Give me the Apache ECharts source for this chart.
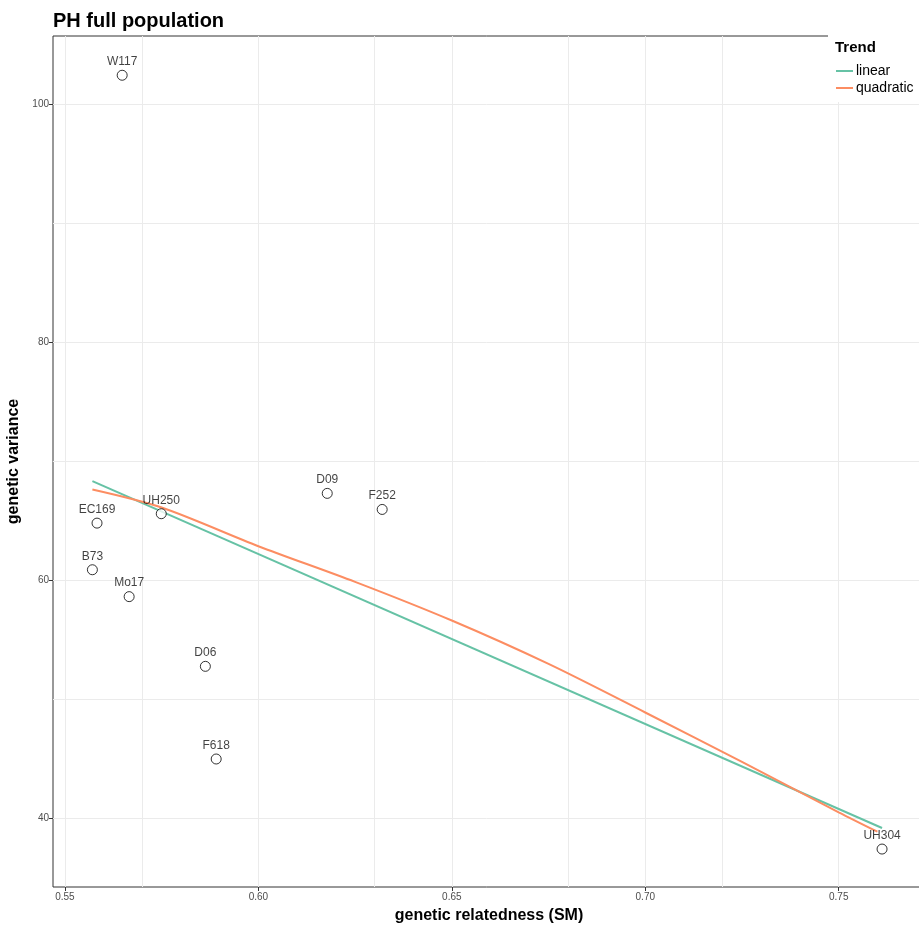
<!DOCTYPE html>
<html>
<head>
<meta charset="utf-8">
<title>PH full population</title>
<script src="https://cdn.jsdelivr.net/npm/echarts@6/dist/echarts.min.js"></script>
<style>
  html, body { margin: 0; padding: 0; background: #fff; }
  #chart { width: 919px; height: 931px; }
</style>
</head>
<body>
<div id="chart"></div>
<script>
// tick positions
const xTicks = [0.55, 0.60, 0.65, 0.70, 0.75]
const xMinor = [0.575, 0.625, 0.675, 0.725]
const yTicks = [40, 60, 80, 100]
const yMinor = [50, 70, 90]

// genotypes (points)
const genotypes = ['W117', 'EC169', 'B73', 'Mo17', 'UH250', 'D06', 'F618', 'D09', 'F252', 'UH304']
const relatedness = [0.5648, 0.5583, 0.5571, 0.5666, 0.5749, 0.5863, 0.5891, 0.6178, 0.6320, 0.7612]
const variance = [102.44, 64.79, 60.87, 58.61, 65.58, 52.75, 44.96, 67.29, 65.94, 37.39]

// trend lines
const linearX = [0.5571, 0.7612]
const linearY = [68.32, 39.16]
const quadX = [0.5571, 0.575, 0.600, 0.625, 0.650, 0.675, 0.700, 0.725, 0.750, 0.7600]
const quadY = [67.62, 66.10, 62.85, 59.85, 56.60, 52.95, 48.87, 44.72, 40.48, 38.85]

const font = 'Liberation Sans, Arial, sans-serif'
const pair = (xs, ys) => xs.map((x, i) => [x, ys[i]])

const chart = echarts.init(document.getElementById('chart'))
chart.setOption({
  animation: false,
  backgroundColor: '#fff',
  title: {
    text: 'PH full population',
    left: 48,
    top: 6,
    textStyle: { fontFamily: font, fontSize: 20, fontWeight: 'bold', color: '#000' }
  },
  graphic: [
    // legend box covers the panel border (as in the original)
    { type: 'rect', z: 100, shape: { x: 828, y: 30, width: 91, height: 72 }, style: { fill: '#fff' } },
    { type: 'text', z: 101, left: 835, top: 40,
      style: { text: 'Trend', fontFamily: font, fontSize: 15, fontWeight: 'bold', fill: '#000' } }
  ],
  legend: {
    data: ['linear', 'quadratic'],
    orient: 'vertical',
    left: 831,
    top: 59,
    z: 102,
    icon: 'rect',
    itemWidth: 17,
    itemHeight: 2,
    itemGap: 3,
    textStyle: { fontFamily: font, fontSize: 14, color: '#000', padding: [0, 0, 0, -2] }
  },
  grid: {
    left: 53,
    top: 36,
    right: -6,
    bottom: 44,
    outerBoundsMode: 'none',
    containLabel: false,
    show: true,
    borderColor: '#333',
    borderWidth: 1,
    backgroundColor: 'transparent'
  },
  xAxis: {
    type: 'value',
    min: 0.54692,
    max: 0.7723,
    axisLine: { show: false },
    splitLine: { show: false },
    axisTick: { show: true, customValues: xTicks, length: 4, lineStyle: { color: '#333' } },
    axisLabel: {
      customValues: xTicks,
      formatter: v => v.toFixed(2),
      fontFamily: font, fontSize: 10, color: '#4d4d4d', margin: 5
    },
    name: 'genetic relatedness (SM)',
    nameLocation: 'middle',
    nameGap: 21,
    nameTextStyle: { fontFamily: font, fontSize: 16, fontWeight: 'bold', color: '#000' }
  },
  yAxis: {
    type: 'value',
    min: 34.2,
    max: 105.74,
    axisLine: { show: false },
    splitLine: { show: false },
    axisTick: { show: true, customValues: yTicks, length: 4, lineStyle: { color: '#333' } },
    axisLabel: {
      customValues: yTicks,
      fontFamily: font, fontSize: 10, color: '#4d4d4d', margin: 4
    },
    name: 'genetic variance',
    nameLocation: 'middle',
    nameGap: 26,
    nameTextStyle: { fontFamily: font, fontSize: 16, fontWeight: 'bold', color: '#000' }
  },
  series: [
    {
      // grid lines only
      name: 'grid',
      type: 'line',
      z: 0,
      silent: true,
      showSymbol: false,
      data: [],
      markLine: {
        z: 0,
        silent: true,
        symbol: ['none', 'none'],
        label: { show: false },
        lineStyle: { color: '#ebebeb', width: 1, type: 'solid' },
        data: [
          ...xTicks.concat(xMinor).map(v => ({ xAxis: v })),
          ...yTicks.concat(yMinor).map(v => ({ yAxis: v }))
        ]
      }
    },
    {
      name: 'linear',
      type: 'line',
      z: 10,
      showSymbol: false,
      data: pair(linearX, linearY),
      lineStyle: { color: '#66c2a5', width: 2 },
      itemStyle: { color: '#66c2a5' }
    },
    {
      name: 'quadratic',
      type: 'line',
      z: 10,
      smooth: 0.3,
      showSymbol: false,
      data: pair(quadX, quadY),
      lineStyle: { color: '#fc8d62', width: 2 },
      itemStyle: { color: '#fc8d62' }
    },
    {
      name: 'genotype',
      type: 'scatter',
      z: 12,
      symbol: 'circle',
      symbolSize: 10,
      itemStyle: { color: '#fff', borderColor: '#000', borderWidth: 1 },
      data: relatedness.map((x, i) => [x, variance[i], genotypes[i]]),
      label: {
        show: true,
        position: 'top',
        distance: 2,
        formatter: p => p.data[2],
        fontFamily: font,
        fontSize: 12,
        color: '#111'
      }
    }
  ]
})
</script>
</body>
</html>
